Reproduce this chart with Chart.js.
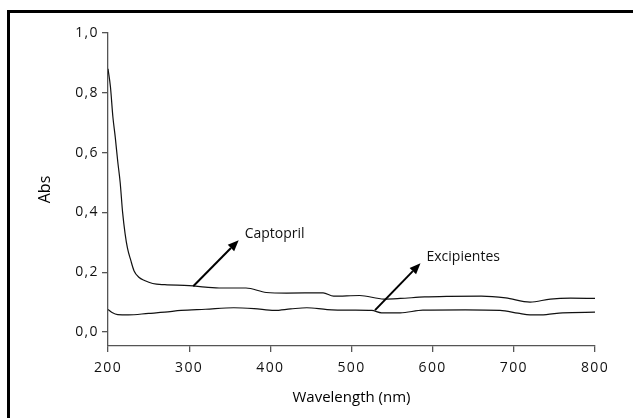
<!DOCTYPE html>
<html>
<head>
<meta charset="utf-8">
<script src="https://cdn.jsdelivr.net/npm/chart.js@4.4.1/dist/chart.umd.min.js"></script>
<style>
  html, body { margin: 0; padding: 0; background: #fff; overflow: hidden; }
  #page { position: relative; width: 633px; height: 418px; overflow: hidden; }
  #frame { position: absolute; left: 7px; top: 10px; right: 0; bottom: 0; border-left: 3px solid #000; border-top: 3px solid #000; }
  #chart { position: absolute; left: 0; top: 0; }
</style>
</head>
<body>
<div id="page">
  <div id="frame"></div>
  <canvas id="chart" width="633" height="418"></canvas>
</div>
<script>
// UV spectra of captopril and excipients.
const captoprilWl = [200, 203, 206, 209, 212, 215, 218, 221, 224, 228, 232, 238, 245, 255, 270, 300, 320, 340, 370, 395, 420, 465, 478, 510, 540, 560, 590, 620, 660, 690, 720, 745, 770, 800];
const captoprilAbs = [0.88, 0.82, 0.72, 0.65, 0.57, 0.50, 0.40, 0.33, 0.28, 0.24, 0.205, 0.183, 0.172, 0.162, 0.158, 0.155, 0.15, 0.147, 0.147, 0.132, 0.13, 0.131, 0.12, 0.122, 0.11, 0.112, 0.117, 0.119, 0.12, 0.114, 0.10, 0.11, 0.113, 0.112];
const excipWl = [200, 205, 212, 225, 250, 270, 290, 320, 355, 380, 405, 425, 445, 470, 500, 525, 537, 560, 588, 640, 683, 705, 720, 740, 760, 800];
const excipAbs = [0.075, 0.065, 0.058, 0.057, 0.062, 0.066, 0.072, 0.076, 0.081, 0.078, 0.072, 0.077, 0.081, 0.075, 0.073, 0.072, 0.064, 0.064, 0.073, 0.074, 0.072, 0.063, 0.057, 0.058, 0.064, 0.066];
const yTicks = [0, 0.2, 0.4, 0.6, 0.8, 1.0];
const xTicks = [200, 300, 400, 500, 600, 700, 800];
const arrowLabels = ["Captopril", "Excipientes"];
const arrowFromWl = [305, 529];
const arrowFromAbs = [0.153, 0.073];
const arrowToWl = [361, 585];
const arrowToAbs = [0.307, 0.23];

const FONT = "'Open Sans', 'Noto Sans', sans-serif";
const AXIS = "#555";
const pts = (xs, ys) => xs.map((x, i) => ({ x, y: ys[i] }));

// the figure's digits are wider than Open Sans, so tick labels get a little tracking
const drawLabels = Chart.Scale.prototype.drawLabels;
Chart.Scale.prototype.drawLabels = function (area) {
  const prev = this.ctx.letterSpacing;
  this.ctx.letterSpacing = "1.4px";
  drawLabels.call(this, area);
  this.ctx.letterSpacing = prev;
};

const arrows = {
  id: "arrows",
  afterDatasetsDraw(chart) {
    const { ctx, scales: { x, y } } = chart;
    ctx.save();
    arrowLabels.forEach((label, i) => {
      const x0 = x.getPixelForValue(arrowFromWl[i]), y0 = y.getPixelForValue(arrowFromAbs[i]);
      const x1 = x.getPixelForValue(arrowToWl[i]), y1 = y.getPixelForValue(arrowToAbs[i]);
      const ang = Math.atan2(y1 - y0, x1 - x0);
      const head = 11, half = 4.5;
      const bx = x1 - head * Math.cos(ang), by = y1 - head * Math.sin(ang);
      ctx.strokeStyle = "#000";
      ctx.fillStyle = "#000";
      ctx.lineWidth = 2;
      ctx.beginPath();
      ctx.moveTo(x0, y0);
      ctx.lineTo(bx, by);
      ctx.stroke();
      ctx.beginPath();
      ctx.moveTo(x1, y1);
      ctx.lineTo(bx + half * Math.sin(ang), by - half * Math.cos(ang));
      ctx.lineTo(bx - half * Math.sin(ang), by + half * Math.cos(ang));
      ctx.closePath();
      ctx.fill();
      ctx.font = `14px ${FONT}`;
      ctx.fillStyle = "#111";
      ctx.textAlign = "left";
      ctx.textBaseline = "middle";
      ctx.fillText(label, x1 + 6, y1 - 6);
    });
    ctx.restore();
  },
};

new Chart(document.getElementById("chart"), {
  type: "line",
  data: {
    datasets: [
      { label: "Captopril", data: pts(captoprilWl, captoprilAbs) },
      { label: "Excipientes", data: pts(excipWl, excipAbs) },
    ],
  },
  options: {
    responsive: false,
    animation: false,
    devicePixelRatio: 1,
    layout: { padding: { left: 0, right: 38, top: 33, bottom: 0 } },
    elements: {
      line: { borderColor: "#111", borderWidth: 1.2, tension: 0.3, cubicInterpolationMode: "monotone", fill: false },
      point: { radius: 0 },
    },
    plugins: { legend: { display: false }, tooltip: { enabled: false } },
    scales: {
      x: {
        type: "linear", min: 200, max: 800,
        afterBuildTicks: (s) => { s.ticks = xTicks.map((value) => ({ value })); },
        afterFit: (s) => { s.height = 72; },
        border: { color: AXIS, width: 1.3 },
        grid: { drawOnChartArea: false, drawTicks: true, tickLength: 6, color: AXIS, lineWidth: 1.3 },
        ticks: { color: "#111", padding: 8, font: { family: FONT, size: 14 } },
        title: { display: true, text: "Wavelength (nm)", color: "#000", padding: { top: 0, bottom: 11 }, font: { family: FONT, size: 15, weight: "500" } },
      },
      y: {
        type: "linear", min: -0.047, max: 1.0,
        afterBuildTicks: (s) => { s.ticks = yTicks.map((value) => ({ value })); },
        afterFit: (s) => { s.width = 108; },
        border: { color: AXIS, width: 1.3 },
        grid: { drawOnChartArea: false, drawTicks: true, tickLength: 6, color: AXIS, lineWidth: 1.3 },
        ticks: { color: "#111", padding: 3, font: { family: FONT, size: 14 }, callback: (v) => v.toFixed(1).replace(".", ",") },
        title: { display: true, text: "Abs", color: "#000", padding: { top: 36, bottom: 0 }, font: { family: FONT, size: 16, weight: "500" } },
      },
    },
  },
  plugins: [arrows],
});
</script>
</body>
</html>
